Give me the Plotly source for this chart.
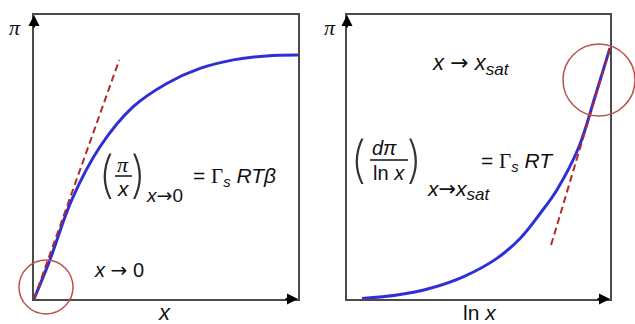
import plotly.graph_objects as go

# left panel: pi vs x (normalised units)
x_left = [0.0, 0.06, 0.143, 0.25, 0.376, 0.503, 0.629, 0.755, 0.881, 1.0]
pi_left = [0.0, 0.137, 0.349, 0.536, 0.677, 0.759, 0.812, 0.842, 0.856, 0.859]
tangent_left_x = [0.0, 0.323]
tangent_left_y = [0.0, 0.842]

# right panel: pi vs ln x
lnx_right = [0.057, 0.190, 0.317, 0.444, 0.570, 0.659, 0.735, 0.798, 0.882, 0.943, 1.0]
pi_right = [0.002, 0.014, 0.038, 0.079, 0.143, 0.214, 0.302, 0.384, 0.536, 0.712, 0.884]
tangent_right_x = [0.776, 1.0]
tangent_right_y = [0.190, 0.884]

W, H = 635, 324
BLUE = "#2f2fd9"
RED = "#b02a2a"
CIRCLE = "#b9524e"
FRAME = "#4a4a4a"


def px(x, y):
    return x / W, 1 - y / H


fig = go.Figure()
fig.add_trace(go.Scatter(x=x_left, y=pi_left, mode="lines", line=dict(color=BLUE, width=3, shape="spline"),
                         xaxis="x", yaxis="y"))
fig.add_trace(go.Scatter(x=tangent_left_x, y=tangent_left_y, mode="lines",
                         line=dict(color=RED, width=2, dash="7px,4px"), xaxis="x", yaxis="y"))
fig.add_trace(go.Scatter(x=lnx_right, y=pi_right, mode="lines", line=dict(color=BLUE, width=3, shape="spline"),
                         xaxis="x2", yaxis="y2"))
fig.add_trace(go.Scatter(x=tangent_right_x, y=tangent_right_y, mode="lines",
                         line=dict(color=RED, width=2, dash="7px,4px"), xaxis="x2", yaxis="y2"))

ydom = [1 - 299 / H, 1 - 15 / H]
ax_style = dict(range=[0, 1], showline=True, mirror=True, linecolor=FRAME, linewidth=2,
                showgrid=False, zeroline=False, showticklabels=False, ticks="", fixedrange=True)
fig.update_layout(
    width=W, height=H, margin=dict(l=0, r=0, t=0, b=0),
    paper_bgcolor="white", plot_bgcolor="white", showlegend=False,
    xaxis=dict(domain=[34 / W, 298 / W], anchor="y", **ax_style),
    yaxis=dict(domain=ydom, anchor="x", **ax_style),
    xaxis2=dict(domain=[347 / W, 610 / W], anchor="y2", **ax_style),
    yaxis2=dict(domain=ydom, anchor="x2", **ax_style),
)

# circles marking the limits (pixel-sized, not clipped by the plot area)
for cx, cy, r in [(46, 287, 27), (599, 80, 36)]:
    ax_, ay_ = px(cx, cy)
    fig.add_shape(type="circle", xref="paper", yref="paper", xsizemode="pixel", ysizemode="pixel",
                  xanchor=ax_, yanchor=ay_, x0=-r, x1=r, y0=-r, y1=r,
                  line=dict(color=CIRCLE, width=1.5))

# axis arrows
for xr, yr in [("x", "y"), ("x2", "y2")]:
    fig.add_annotation(x=0, y=1, xref=xr, yref=yr, text="", showarrow=True, ax=0, ay=14,
                       arrowhead=2, arrowsize=1.1, arrowwidth=2, arrowcolor="black")
    fig.add_annotation(x=1, y=0, xref=xr, yref=yr, text="", showarrow=True, ax=-14, ay=0,
                       arrowhead=2, arrowsize=1.1, arrowwidth=2, arrowcolor="black")

SANS = "Liberation Sans"
SERIF = "Liberation Serif"


def label(text, x, y, size=19, family=SANS, xanchor="center", weight="normal", color="#111"):
    xp, yp = px(x, y)
    fig.add_annotation(x=xp, y=yp, xref="paper", yref="paper", text=text, showarrow=False,
                       xanchor=xanchor, yanchor="middle",
                       font=dict(family=family, size=size, color=color, weight=weight))


def frac_line(x0, x1, y):
    a, b = px(x0, y)
    c, _ = px(x1, y)
    fig.add_shape(type="line", xref="paper", yref="paper", x0=a, x1=c, y0=b, y1=b,
                  line=dict(color="#111", width=1.5))


GAMMA = "<span style='font-family:Liberation Serif'>Γ</span>"
ARROW = "<span style='font-family:DejaVu Sans'>→</span>"
PAREN = dict(size=50, family="Inter", weight=200, color="#333")


def sub(t, size):
    return "<sub><span style='font-size:%dpx'>%s</span></sub>" % (size, t)


# axis labels
label("<i>π</i>", 15, 27, size=22, family=SERIF)
label("<i>π</i>", 330, 27, size=22, family=SERIF)
label("<i>x</i>", 164, 312, size=22)
label("ln <i>x</i>", 480, 312, size=21)

# left panel texts
label("<i>x</i> " + ARROW + " 0", 119, 270, size=20)
label("(", 106, 174, **PAREN)
label("<i>π</i>", 123, 164, size=22, family=SERIF)
frac_line(115, 132, 176)
label("<i>x</i>", 123, 188, size=21)
label(")", 138, 174, **PAREN)
label("<i>x</i>" + ARROW + "0", 144, 195, size=19, xanchor="left")
label("= " + GAMMA + "<sub><i>s</i></sub> <i>RTβ</i>", 191, 177, size=21, xanchor="left")

# right panel texts
label("<i>x</i> " + ARROW + " <i>x</i>" + sub("<i>sat</i>", 17), 430, 64, size=22, xanchor="left")
label("(", 359, 159, **PAREN)
label("<i>dπ</i>", 384, 148, size=20)
frac_line(370, 408, 160)
label("ln <i>x</i>", 389, 173, size=20)
label(")", 414, 159, **PAREN)
label("<i>x</i>" + ARROW + "<i>x</i>" + sub("<i>sat</i>", 17), 425, 190, size=21, xanchor="left")
label("= " + GAMMA + "<sub><i>s</i></sub> <i>RT</i>", 479, 162, size=21, xanchor="left")

fig.write_html("out.html", config={"displayModeBar": False},
               post_script="document.body.style.margin='0';")
